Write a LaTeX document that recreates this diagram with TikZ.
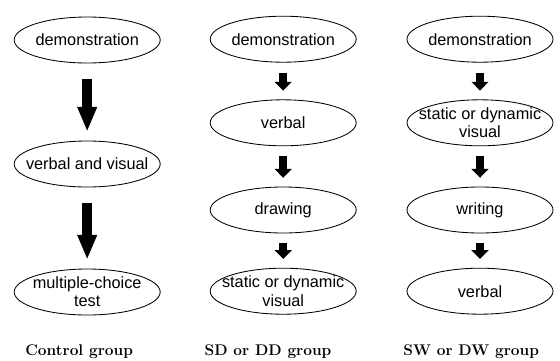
\documentclass[tikz,border=0pt]{standalone}
\usepackage{fontspec}
\newfontfamily\arialfont{Liberation Sans}
\usetikzlibrary{shapes.geometric,arrows.meta}

\begin{document}
\begin{tikzpicture}[
    stage/.style={ellipse, draw, line width=0.6pt, minimum width=3.65cm,
        minimum height=1.15cm, inner sep=-3mm, align=center,
        font=\arialfont\fontsize{11.6}{13}\selectfont},
    bigarrow/.style={line width=0.24cm, -{Triangle[length=0.62cm,width=0.45cm]},
        shorten <=0.4cm, shorten >=0.22cm},
    smallarrow/.style={line width=0.2cm, -{Triangle[length=0.22cm,width=0.42cm]},
        shorten <=0.25cm, shorten >=0.22cm},
    grouplabel/.style={font=\bfseries\fontsize{11}{13}\selectfont},
]
% ---- column x-coordinates ----
\def\xctl{2.18}   % control group
\def\xsd{7.08}    % SD or DD group
\def\xsw{12.0}    % SW or DW group

% ---- row y-coordinates ----
\def\yA{-0.98}    % row 1
\def\yB{-3.07}    % row 2
\def\yC{-5.25}    % row 3
\def\yD{-7.28}    % row 4
\def\ylab{-8.8}   % group labels

\useasboundingbox (0,0) rectangle (14,-9);

% ---- control group ----
\node[stage] (ctlA) at (\xctl,-1.0) {demonstration};
\node[stage] (ctlB) at (\xctl,-4.1) {verbal and visual};
\node[stage] (ctlC) at (\xctl,-7.3) {multiple-choice\\test};
\draw[bigarrow] (ctlA.south) -- (ctlB.north);
\draw[bigarrow] (ctlB.south) -- (ctlC.north);

% ---- SD or DD group ----
\node[stage] (sdA) at (\xsd,\yA) {demonstration};
\node[stage] (sdB) at (\xsd,\yB) {verbal};
\node[stage] (sdC) at (\xsd,\yC) {drawing};
\node[stage] (sdD) at (\xsd,\yD) {static or dynamic\\visual};
\draw[smallarrow] (sdA.south) -- (sdB.north);
\draw[smallarrow] (sdB.south) -- (sdC.north);
\draw[smallarrow] (sdC.south) -- (sdD.north);

% ---- SW or DW group ----
\node[stage] (swA) at (\xsw,\yA) {demonstration};
\node[stage] (swB) at (\xsw,\yB) {static or dynamic\\visual};
\node[stage] (swC) at (\xsw,\yC) {writing};
\node[stage] (swD) at (\xsw,\yD) {verbal};
\draw[smallarrow] (swA.south) -- (swB.north);
\draw[smallarrow] (swB.south) -- (swC.north);
\draw[smallarrow] (swC.south) -- (swD.north);

% ---- group labels ----
\node[grouplabel] (ctlLab) at (1.98,\ylab)  {Control group};
\node[grouplabel] (sdLab)  at (6.7,\ylab)   {SD or DD group};
\node[grouplabel] (swLab)  at (11.78,\ylab) {SW or DW group};

\end{tikzpicture}
\end{document}
